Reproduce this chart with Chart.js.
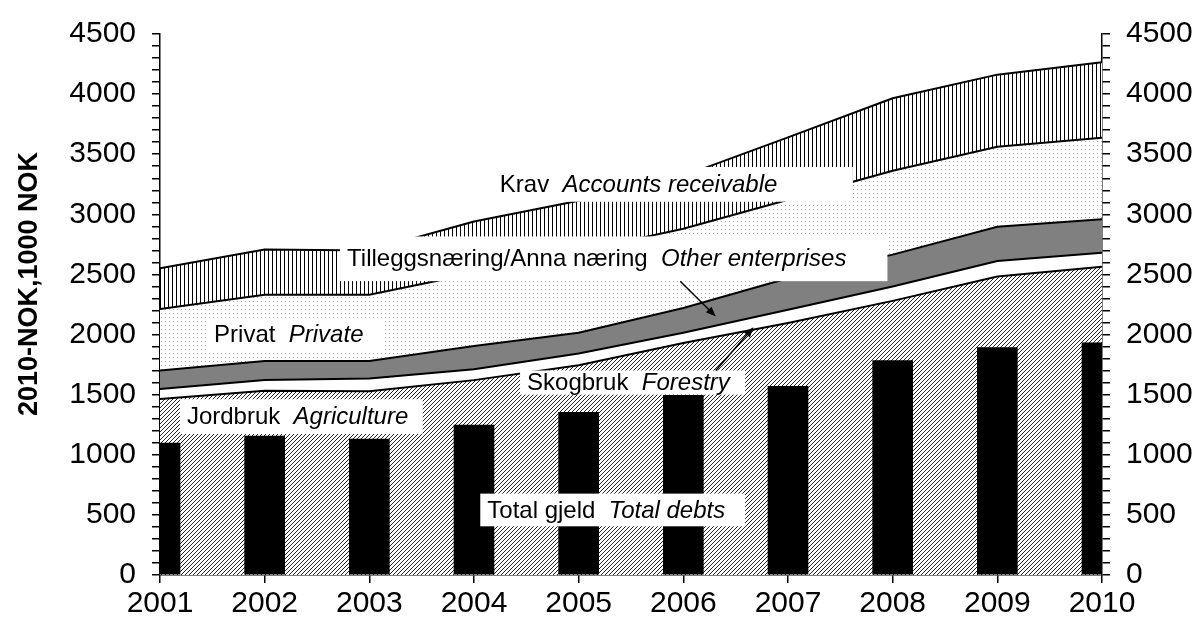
<!DOCTYPE html>
<html>
<head>
<meta charset="utf-8">
<script src="https://cdn.jsdelivr.net/npm/chart.js@4/dist/chart.umd.min.js"></script>
<style>
  html, body { margin: 0; padding: 0; background: #fff; }
</style>
</head>
<body>
<canvas id="grafico" width="1195" height="622"></canvas>
<script>
// x axis
const years = [2001, 2002, 2003, 2004, 2005, 2006, 2007, 2008, 2009, 2010];

// area layers, thickness of each layer (stacked from the bottom)
const jordbruk = [1464, 1533, 1528, 1621, 1745, 1930, 2097, 2280, 2483, 2564];
const skogbruk = [83, 88, 107, 91, 97, 85, 110, 120, 129, 116];
const tillegg  = [154, 160, 145, 193, 173, 206, 262, 265, 284, 280];
const privat   = [512, 550, 551, 605, 677, 659, 652, 698, 666, 677];
const krav     = [338, 377, 369, 430, 421, 440, 519, 602, 600, 628];

// black bars
const totalGjeld = [1098, 1156, 1131, 1247, 1354, 1495, 1569, 1784, 1891, 1932];

// labelled y ticks (minor ticks every 100)
const yTicks = [0, 500, 1000, 1500, 2000, 2500, 3000, 3500, 4000, 4500];
const tituloY = '2010-NOK,1000 NOK';

// text boxes placed in data units: x0/x1 years, yTop/yBot values
const etiquetas = [
  {x0: 2004.18, x1: 2007.62, yTop: 3394, yBot: 3105, partes: [['Krav  ', false], ['Accounts receivable', true]]},
  {x0: 2002.72, x1: 2007.95, yTop: 2816, yBot: 2444, partes: [['Tilleggsnæring/Anna næring  ', false], ['Other enterprises', true]]},
  {x0: 2001.45, x1: 2003.15, yTop: 2140, yBot: 1860, partes: [['Privat  ', false], ['Private', true]]},
  {x0: 2001.19, x1: 2003.51, yTop: 1462, yBot: 1173, partes: [['Jordbruk  ', false], ['Agriculture', true]]},
  {x0: 2004.44, x1: 2006.59, yTop: 1701, yBot: 1500, partes: [['Skogbruk  ', false], ['Forestry', true]]},
  {x0: 2004.06, x1: 2006.59, yTop: 677, yBot: 405, partes: [['Total gjeld  ', false], ['Total debts', true]]}
];
const flechas = [
  {desde: [2005.97, 2444], hasta: [2006.31, 2150]},
  {desde: [2006.31, 1701], hasta: [2006.67, 2060]}
];

const fuente = '"Liberation Sans", Arial, sans-serif';

// patterns
function patron(w, h, dibujar) {
  const c = document.createElement('canvas');
  c.width = w; c.height = h;
  const g = c.getContext('2d');
  g.fillStyle = '#fff';
  g.fillRect(0, 0, w, h);
  dibujar(g);
  return document.getElementById('grafico').getContext('2d').createPattern(c, 'repeat');
}
const rayado = patron(4, 4, g => {
  g.fillStyle = '#222';
  for (let i = 0; i < 4; i++) g.fillRect(i, 3 - i, 1, 1);
});
const vertical = patron(4, 1, g => {
  g.fillStyle = '#000';
  g.fillRect(0, 0, 1, 1);
});
const puntos = patron(4, 4, g => {
  g.fillStyle = '#a8a8a8';
  g.fillRect(1, 1, 1, 1);
});

function capa(datos, relleno, fill) {
  return {
    type: 'line',
    data: datos,
    stack: 'capas',
    fill: fill,
    backgroundColor: relleno,
    borderColor: '#000',
    borderWidth: 2,
    pointRadius: 0,
    tension: 0,
    order: 1
  };
}

const etiquetasPlugin = {
  id: 'etiquetas',
  afterDatasetsDraw(chart) {
    const ctx = chart.ctx;
    const sx = chart.scales.x, sy = chart.scales.y;
    ctx.save();
    etiquetas.forEach(e => {
      const x0 = sx.getPixelForValue(e.x0), x1 = sx.getPixelForValue(e.x1);
      const y0 = sy.getPixelForValue(e.yTop), y1 = sy.getPixelForValue(e.yBot);
      ctx.fillStyle = '#fff';
      ctx.fillRect(x0, y0, x1 - x0, y1 - y0);
      ctx.fillStyle = '#000';
      ctx.textBaseline = 'middle';
      let x = x0 + 7;
      e.partes.forEach(p => {
        ctx.font = (p[1] ? 'italic ' : '') + '24px ' + fuente;
        ctx.fillText(p[0], x, (y0 + y1) / 2 + 1);
        x += ctx.measureText(p[0]).width;
      });
    });
    flechas.forEach(f => {
      const ax = sx.getPixelForValue(f.desde[0]), ay = sy.getPixelForValue(f.desde[1]);
      const bx = sx.getPixelForValue(f.hasta[0]), by = sy.getPixelForValue(f.hasta[1]);
      const ang = Math.atan2(by - ay, bx - ax);
      ctx.strokeStyle = '#000';
      ctx.lineWidth = 1.5;
      ctx.beginPath();
      ctx.moveTo(ax, ay);
      ctx.lineTo(bx - 6 * Math.cos(ang), by - 6 * Math.sin(ang));
      ctx.stroke();
      ctx.fillStyle = '#000';
      ctx.beginPath();
      ctx.moveTo(bx, by);
      ctx.lineTo(bx - 10 * Math.cos(ang) + 4 * Math.sin(ang), by - 10 * Math.sin(ang) - 4 * Math.cos(ang));
      ctx.lineTo(bx - 10 * Math.cos(ang) - 4 * Math.sin(ang), by - 10 * Math.sin(ang) + 4 * Math.cos(ang));
      ctx.closePath();
      ctx.fill();
    });
    // y axis title, a bit above the axis middle like the original
    ctx.translate(30, sy.getPixelForValue(2420));
    ctx.rotate(-Math.PI / 2);
    ctx.font = 'bold 27px ' + fuente;
    ctx.textAlign = 'center';
    ctx.textBaseline = 'middle';
    ctx.fillText(tituloY, 0, 0);
    ctx.restore();
  }
};

const ejeY = (posicion, ancho) => ({
  type: 'linear',
  position: posicion,
  stacked: true,
  min: 0,
  max: 4500,
  afterFit(s) { s.width = ancho; },
  border: {display: true, color: '#000', width: 1.5},
  grid: {drawOnChartArea: false, color: '#000', tickLength: 8, lineWidth: 1.5},
  ticks: {
    stepSize: 100,
    autoSkip: false,
    color: '#000',
    padding: 16,
    font: {family: fuente, size: 30},
    callback: v => yTicks.includes(v) ? String(v) : ''
  }
});

new Chart(document.getElementById('grafico'), {
  type: 'line',
  data: {
    labels: years,
    datasets: [
      {
        type: 'bar',
        data: totalGjeld,
        stack: 'gjeld',
        backgroundColor: '#000',
        borderWidth: 0,
        barThickness: 40,
        order: 0
      },
      capa(jordbruk, rayado, 'origin'),
      capa(skogbruk, '#fff', '-1'),
      capa(tillegg, '#808080', '-1'),
      capa(privat, puntos, '-1'),
      capa(krav, vertical, '-1')
    ]
  },
  options: {
    responsive: false,
    devicePixelRatio: 1,
    animation: false,
    layout: {padding: {top: 31, left: 0, right: 0, bottom: 0}},
    plugins: {legend: {display: false}, tooltip: {enabled: false}},
    scales: {
      x: {
        type: 'linear',
        min: 2001,
        max: 2010,
        offset: false,
        afterFit(s) { s.height = 47; },
        border: {display: true, color: '#000', width: 1.5},
        grid: {drawOnChartArea: false, color: '#000', tickLength: 8, lineWidth: 1.5, offset: false},
        ticks: {
          stepSize: 1,
          autoSkip: false,
          maxRotation: 0,
          color: '#000',
          padding: 3,
          font: {family: fuente, size: 30},
          callback: v => String(v)
        }
      },
      y: ejeY('left', 160),
      y2: ejeY('right', 93)
    }
  },
  plugins: [etiquetasPlugin]
});
</script>
</body>
</html>
